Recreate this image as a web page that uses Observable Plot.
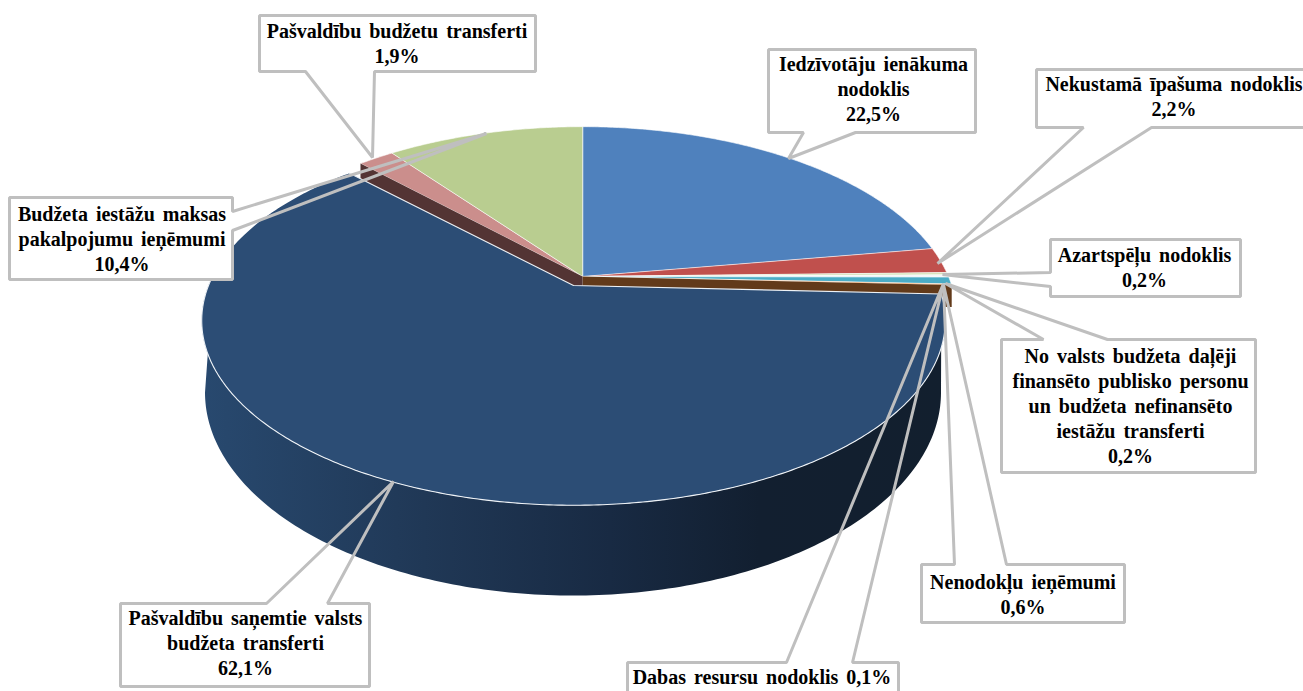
<!DOCTYPE html>
<html>
<head>
<meta charset="utf-8">
<script src="https://cdn.jsdelivr.net/npm/d3@7"></script>
<script src="https://cdn.jsdelivr.net/npm/@observablehq/plot@0.6"></script>
<style>html,body{margin:0;padding:0;background:#fff;overflow:hidden}</style>
</head>
<body>
<div id="chart"></div>
<script>
// --- data, clockwise from twelve o'clock ---
const categories = ["Iedzīvotāju ienākuma nodoklis","Nekustamā īpašuma nodoklis","Azartspēļu nodoklis","No valsts budžeta daļēji finansēto publisko personu un budžeta nefinansēto iestāžu transferti","Nenodokļu ieņēmumi","Dabas resursu nodoklis","Pašvaldību saņemtie valsts budžeta transferti","Pašvaldību budžetu transferti","Budžeta iestāžu maksas pakalpojumu ieņēmumi"];
const shares = [22.5,2.2,0.2,0.2,0.6,0.1,62.1,1.9,10.4];
const sliceColors = ["#4f81bd","#c0504d","#d3e2b6","#f4f6f8","#4bacc6","#f79646","#2c4d75","#cb8e8c","#b9cd90"];
const calloutTexts = ["Iedzīvotāju ienākuma\nnodoklis\n22,5%","Nekustamā īpašuma nodoklis\n2,2%","Azartspēļu nodoklis\n0,2%","No valsts budžeta daļēji\nfinansēto publisko personu\nun budžeta nefinansēto\niestāžu transferti\n0,2%","Nenodokļu ieņēmumi\n0,6%","Dabas resursu nodoklis 0,1%","Pašvaldību saņemtie valsts\nbudžeta transferti\n62,1%","Pašvaldību budžetu transferti\n1,9%","Budžeta iestāžu maksas\npakalpojumu ieņēmumi\n10,4%"];

// --- layout of the callouts: box [x0,y0,x1,y1], wedge base [[x,y],[x,y]] in outline order, tip [x,y] ---
const calloutBoxes = [[768,49,975,132],[1036,69,1308,127],[1050,239,1240,296],[1001,339,1255,472],[921,564,1124,622],[627,662,898,700],[120,603,369,686],[259,15,535,71],[9,197,232,279]];
const calloutWedges = [[[855,132],[803,132]],[[1151,127],[1083,127]],[[1050,286],[1050,272]],[[1043,339],[1107,339]],[[954,564],[1006,564]],[[786,662],[852,662]],[[266,603],[327,603]],[[374,71],[305,71]],[[232,211],[232,230]]];
const calloutTips = [[788,158],[937,263],[942,274],[945,283],[943,284],[943,283],[393,481],[372,157],[486,133]];
const calloutCentres = [[873,87.5],[1173.5,95],[1144,266],[1130,404.5],[1022.5,593],[761.5,675],[245,641.5],[396.5,41.5],[121.5,237]];

// --- pie projection: a tilted circle seen in perspective ---
const backPie = {cx:582, cy:276, rx:366, ry:181, k:0.208};
const mainPie = {cx:573, cy:285, rx:365, ry:178, k:0.19};
const wallFoot = {cx:572.5, cy:392, rx:368, ry:203};
const mainIndex = 6;

const project = (p, a) => {
  const X = Math.sin(a), Y = Math.cos(a), w = 1 + p.k * Y;
  return {x: p.cx + p.rx * X / w, y: p.cy - p.ry * Y / w};
};
const arcPoints = (p, a0, a1) => {
  const n = Math.max(2, Math.ceil((a1 - a0) / 0.01));
  return d3.range(n + 1).map(i => project(p, a0 + (a1 - a0) * i / n));
};
const pie = d3.pie().sort(null).startAngle(0).endAngle(2 * Math.PI)(shares);

const sector = (d, p) => [{x: p.cx, y: p.cy}, ...arcPoints(p, d.startAngle, d.endAngle)];
const main = pie[mainIndex];

const chan = {x: "x", y: "y"};
const polygon = (pts, o) => Plot.line(pts, {...chan, curve: "linear-closed", ...o});

// cut faces revealed by the pulled-out main slice
const cut = (a, fill, drop) => {
  const r = project(backPie, a);
  return polygon([{x: backPie.cx, y: backPie.cy}, r, {x: r.x, y: r.y + drop}, {x: backPie.cx, y: backPie.cy + drop}], {fill, stroke: "none"});
};

// wall of the main slice
const footPoints = d3.range(0, 181).map(i => {
  const t = Math.PI * (180 - i) / 180;
  return {x: wallFoot.cx + wallFoot.rx * Math.cos(t), y: wallFoot.cy + wallFoot.ry * Math.sin(t)};
});
const rimFront = arcPoints(mainPie, main.startAngle, 1.52 * Math.PI);
const wallPoints = [...rimFront, ...footPoints];
const rimLine = [project(mainPie, main.endAngle), {x: mainPie.cx, y: mainPie.cy}, ...rimFront];

const gradient = () => {
  const defs = d3.create("svg:defs");
  const g = defs.append("linearGradient").attr("id", "wallGrad").attr("gradientUnits", "userSpaceOnUse")
    .attr("x1", 200).attr("x2", 945).attr("y1", 0).attr("y2", 0);
  [["0%","#28496f"],["30%","#203856"],["55%","#182a43"],["75%","#121f30"],["100%","#121f2e"]]
    .forEach(([o, c]) => g.append("stop").attr("offset", o).attr("stop-color", c));
  return defs.node();
};

const backFaces = pie.filter((d, i) => i !== mainIndex).map(d =>
  polygon(sector(d, backPie), {fill: sliceColors[d.index], stroke: "#ffffff", strokeWidth: 0.6}));

const callouts = calloutBoxes.map((b, i) => {
  const [x0, y0, x1, y1] = b;
  const corners = [{x:x0,y:y0},{x:x1,y:y0},{x:x1,y:y1},{x:x0,y:y1}];
  const [A, B] = calloutWedges[i];
  const tipPts = [{x:A[0],y:A[1]},{x:calloutTips[i][0],y:calloutTips[i][1]},{x:B[0],y:B[1]}];
  let edge = A[1] === y0 ? 0 : A[0] === x1 ? 1 : A[1] === y1 ? 2 : 3;
  const outline = [...corners.slice(0, edge + 1), ...tipPts, ...corners.slice(edge + 1)];
  return {b, outline};
});

const plot = Plot.plot({
  width: 1303, height: 691, margin: 0,
  x: {domain: [0, 1303], range: [0, 1303], axis: null},
  y: {domain: [0, 691], range: [0, 691], axis: null},
  style: {background: "#fff", wordSpacing: "3px"},
  marks: [
    gradient,
    ...backFaces,
    cut(main.startAngle, "#623a1a", 22),
    cut(main.endAngle, "#533434", 40),
    polygon(wallPoints, {fill: "url(#wallGrad)", stroke: "none"}),
    polygon(sector(main, mainPie), {fill: sliceColors[mainIndex], stroke: "none"}),
    Plot.line(rimLine, {...chan, stroke: "#eef2f6", strokeWidth: 1.1}),
    ...callouts.map(c => Plot.rect([c.b], {x1: d => d[0], y1: d => d[1], x2: d => d[2], y2: d => d[3], fill: "#fff", stroke: "none", inset: 0})),
    ...callouts.map(c => polygon(c.outline, {fill: "none", stroke: "#bfbfbf", strokeWidth: 3, strokeLinejoin: "miter"})),
    Plot.text(calloutTexts.map((t, i) => ({t, x: calloutCentres[i][0], y: calloutCentres[i][1]})), {
      x: "x", y: "y", text: "t", fontFamily: "Liberation Serif", fontWeight: "bold", fontSize: 20,
      lineHeight: 1.25, fill: "#000", textAnchor: "middle"
    })
  ]
});
document.getElementById("chart").appendChild(plot);
</script>
</body>
</html>
